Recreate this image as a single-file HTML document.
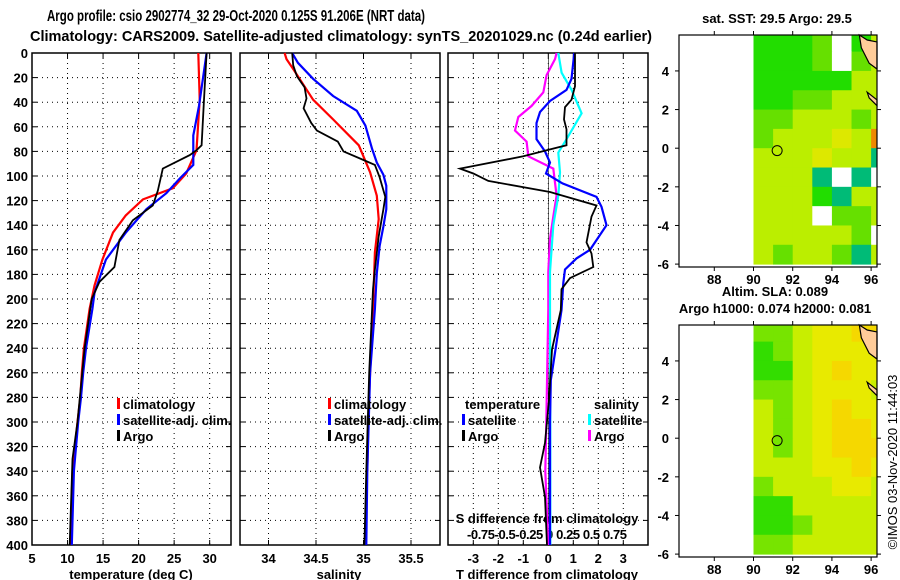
<!DOCTYPE html>
<html><head><meta charset="utf-8"><style>
html,body{margin:0;padding:0;background:#fff}
svg{display:block}
text{font-family:"Liberation Sans",Arial,sans-serif;font-weight:bold;fill:#000}
</style></head><body>
<svg id="c" width="900" height="580" xmlns="http://www.w3.org/2000/svg"></svg>
<script>
// ---------- data ----------
const depthTicks=[0,20,40,60,80,100,120,140,160,180,200,220,240,260,280,300,320,340,360,380,400];
const tTicks=[5,10,15,20,25,30];
const sTicks=[34,34.5,35,35.5];
const dTicks=[-3,-2,-1,0,1,2,3];
const sdTickLabels="-0.75-0.5-0.25  0   0.25 0.5 0.75";
// temperature profiles [depth, value]
const tClimD=[0,38,79,98,110,119,132,146,168,189,208,240,260,280,300,340,400];
const tClimV=[28.4,28.6,28.15,26.7,24.8,20.6,18.2,16.4,14.9,13.8,13.1,12.3,12.0,11.8,11.4,10.7,10.4];
const tSatD=[0,43,67,91,102,114,127,146,168,195,208,240,260,280,300,340,400];
const tSatV=[29.57,28.5,27.7,27.7,25.8,23.9,21.1,18.2,15.4,13.8,13.5,12.6,12.2,11.9,11.5,10.9,10.6];
const tArgoD=[0,38,75,79,83,94,112,124,136,152,174,186,200,240,300,330,400];
const tArgoV=[29.57,29.2,28.86,28.15,27.2,23.4,22.7,22.0,19.2,17.3,16.6,14.5,13.4,12.4,11.4,10.7,10.3];
// salinity profiles
const sClimD=[0,5,13,38,54,75,97,116,135,162,208,260,300,340];
const sClimV=[34.17,34.19,34.26,34.47,34.68,34.95,35.07,35.14,35.16,35.12,35.10,35.07,35.05,35.04];
const sSatD=[0,8,21,35,47,59,78,89,99,108,127,141,157,179,208,260,340,400];
const sSatV=[34.25,34.31,34.47,34.68,34.93,35.02,35.09,35.14,35.21,35.24,35.24,35.21,35.17,35.14,35.12,35.07,35.04,35.03];
const sArgoD=[0,10,19,28,37,45,57,63,72,80,87,91,101,117,127,149,176,192,260,340,400];
const sArgoV=[34.25,34.26,34.30,34.38,34.40,34.37,34.45,34.51,34.73,34.79,35.0,35.12,35.17,35.23,35.21,35.16,35.12,35.10,35.06,35.03,35.01];
// differences from climatology
const dTSatD=[0,21,30,39,48,57,70,80,89,98,106,117,125,140,160,167,176,187,209,266,300,400];
const dTSatV=[1.04,0.93,0.73,0.07,-0.33,-0.47,-0.47,-0.13,0.07,-0.09,0.57,1.93,2.13,2.33,1.67,1.13,0.67,0.6,0.53,0.1,0.07,0.07];
const dTArgoD=[0,27,38,44,54,62,75,77,84,94,98,104,113,124,133,154,163,174,183,192,209,241,282,317,337,361,400];
const dTArgoV=[1.07,1.07,0.93,0.67,0.63,0.73,0.73,0.33,-1.0,-3.53,-3.0,-2.4,0.07,1.93,1.73,1.53,1.73,1.8,0.87,0.53,0.5,0.15,0.03,-0.13,-0.33,-0.13,-0.05];
const dSSatD=[0,16,30,49,70,81,97,116,140,178,208,300,400];
const dSSatV=[0.1,0.133,0.233,0.333,0.183,0.1,0.117,0.1,0.05,0.017,0.017,0.02,0.02];
const dSArgoD=[0,5,18,32,43,52,63,72,84,94,116,133,151,178,208,300,340,400];
const dSArgoV=[0.083,0.067,-0.017,-0.05,-0.167,-0.30,-0.333,-0.217,-0.2,0.05,0.083,0.05,0.017,0,0,-0.02,-0.03,0];
// maps (1-degree cells, rows from lat 5 down to -6, cols lon 90..96)
const sstRows=["GGGgwGL","GGGgwgL","GGGGGyy","GGggyyy","ggyyygy","gyyyYyo","yyyYyyt","yyytwtw","yyyGtyy","yyywggy","yyyyygw","ygyygty"];
const slaRows=["ggyYYOL","GgyYYYY","GGyYOYY","ggyYYYy","ygyYOYY","ygyYOOY","ygyYOOO","yyyYYOY","gyyyYYy","GGyyyyy","GGgyyyy","ggyyyyy"];
const sstPal={G:"#22dd00",g:"#66e000",y:"#bbee00",Y:"#dde800",w:"#ffffff",t:"#00bb77",o:"#ee8800",L:"#bbee00"};
const slaPal={G:"#33dd00",g:"#77e400",y:"#c8ee00",Y:"#e8ea00",O:"#f5d800",L:"#f5d800"};
const argoLon=[91.206], argoLat=[-0.125];

// ---------- drawing ----------
const svg=document.getElementById('c');const NS="http://www.w3.org/2000/svg";
function el(t,a,p){const e=document.createElementNS(NS,t);for(const k in a)e.setAttribute(k,a[k]);(p||svg).appendChild(e);return e;}
function txt(s,x,y,size,anchor,p){const e=el('text',{x:x,y:y,'font-size':size,'text-anchor':anchor||'middle'},p);e.textContent=s;return e;}
const pTop=53,pBot=545;
const yD=d=>pTop+(pBot-pTop)*d/400;
function panel(name){
  const g=el('g',{});
  return g;
}
function frame(g,x0,x1,vticks,xf){
  depthTicks.forEach(d=>{const y=yD(d);
    if(d>0&&d<400) el('line',{x1:x0,x2:x1,y1:y,y2:y,stroke:'#000','stroke-width':1,'stroke-dasharray':'1,4'},g);
    el('line',{x1:x0,x2:x0+5,y1:y,y2:y,stroke:'#000'},g);el('line',{x1:x1-5,x2:x1,y1:y,y2:y,stroke:'#000'},g);});
  vticks.forEach(v=>{const x=xf(v);
    el('line',{x1:x,x2:x,y1:pTop,y2:pBot,stroke:'#000','stroke-dasharray':'1,4'},g);
    el('line',{x1:x,x2:x,y1:pTop,y2:pTop+5,stroke:'#000'},g);el('line',{x1:x,x2:x,y1:pBot-5,y2:pBot,stroke:'#000'},g);});
  el('rect',{x:x0,y:pTop,width:x1-x0,height:pBot-pTop,fill:'none',stroke:'#000','stroke-width':1.5},g);
}
function line(g,name,D,V,xf,color,w){
  const p=el('polyline',{points:D.map((d,i)=>xf(V[i]).toFixed(1)+','+yD(d).toFixed(1)).join(' '),fill:'none',stroke:color,'stroke-width':w||2.2},g);
  
}
function legendRow(g,x,y,color,label){
  el('rect',{x:x,y:y-6,width:3,height:11,fill:color},g);txt(label,x+6,y+5,13,'start',g);
}
// titles
const t1=txt("Argo profile: csio 2902774_32 29-Oct-2020 0.125S 91.206E (NRT data)",236,21,16);
t1.setAttribute('textLength','378');t1.setAttribute('lengthAdjust','spacingAndGlyphs');

const t2=txt("Climatology: CARS2009. Satellite-adjusted climatology: synTS_20201029.nc (0.24d earlier)",341,41,15);
t2.setAttribute('textLength','622');t2.setAttribute('lengthAdjust','spacingAndGlyphs');

// depth labels
const yl=el('g',{});
depthTicks.forEach(d=>txt(String(d),28,yD(d)+5,13,'end',yl));

// panel 1 temperature
const xT=v=>32+(v-5)*(231-32)/28;
const p1=panel('temperature-panel');frame(p1,32,231,tTicks.slice(1),xT);
tTicks.forEach(v=>txt(String(v),xT(v),563,13,'middle',p1));
txt("temperature (deg C)",131,579,13,'middle',p1);
line(p1,'temp-climatology-line',tClimD,tClimV,xT,'#f00');
line(p1,'temp-satellite-line',tSatD,tSatV,xT,'#00f');
line(p1,'temp-argo-line',tArgoD,tArgoV,xT,'#000',1.8);
legendRow(p1,117,404,'#f00','climatology');legendRow(p1,117,420,'#00f','satellite-adj. clim.');legendRow(p1,117,436,'#000','Argo');

// panel 2 salinity
const xS=v=>240+(v-33.7)*95;
const p2=panel('salinity-panel');frame(p2,240,440,sTicks,xS);
sTicks.forEach(v=>txt(String(v),xS(v),563,13,'middle',p2));
txt("salinity",339,579,13,'middle',p2);
line(p2,'sal-climatology-line',sClimD,sClimV,xS,'#f00');
line(p2,'sal-satellite-line',sSatD,sSatV,xS,'#00f');
line(p2,'sal-argo-line',sArgoD,sArgoV,xS,'#000',1.8);
legendRow(p2,328,404,'#f00','climatology');legendRow(p2,328,420,'#00f','satellite-adj. clim.');legendRow(p2,328,436,'#000','Argo');

// panel 3 differences
const xDT=v=>548.3+v*25, xDS=v=>548.3+v*100;
const p3=panel('difference-panel');frame(p3,448,648,dTicks,xDT);
el('line',{x1:548.3,x2:548.3,y1:pTop,y2:pBot,stroke:'#000','stroke-width':0.6},p3);
dTicks.forEach(v=>txt(String(v),xDT(v),563,13,'middle',p3));
txt("T difference from climatology",547,579,13,'middle',p3);
txt("S difference from climatology",547,523,13,'middle',p3);
const sl=txt(sdTickLabels,547,539,13,'middle',p3);sl.setAttribute('textLength','160');
line(p3,'sal-diff-argo-line',dSArgoD,dSArgoV,xDS,'#f0f');
line(p3,'sal-diff-satellite-line',dSSatD,dSSatV,xDS,'#0ff');
line(p3,'temp-diff-satellite-line',dTSatD,dTSatV,xDT,'#00f');
line(p3,'temp-diff-argo-line',dTArgoD,dTArgoV,xDT,'#000',1.8);
txt("temperature",465,409,13,'start',p3);
legendRow(p3,462,420,'#00f','satellite');legendRow(p3,462,436,'#000','Argo');
txt("salinity",594,409,13,'start',p3);
legendRow(p3,588,420,'#0ff','satellite');legendRow(p3,588,436,'#f0f','Argo');

// maps
function map(name,y0,y1,rows,pal){
  const g=el('g',{});
  const x0=679,x1=877,lon0=86.2,lon1=96.3;const lat0=5.86,lat1=-6.15;
  const X=l=>x0+(l-lon0)*(x1-x0)/(lon1-lon0), Y=l=>y0+(lat0-l)*(y1-y0)/(lat0-lat1);
  rows.forEach((r,i)=>{const la=5-i;[...r].forEach((c,j)=>{const lo=90+j;
    const xa=X(Math.max(lo,89.95)),xb=X(Math.min(lo+1,lon1)),ya=Y(Math.min(la+1,lat0)),yb=Y(Math.max(la,lat1));
    const cell=el('rect',{x:xa,y:ya,width:xb-xa+0.5,height:yb-ya+0.5,fill:pal[c]},g);
    
    });});
  el('path',{d:`M${X(95.4)},${y0} L${X(95.8)},${Y(5.6)} L${X(96.3)},${Y(5.5)} L${X(96.3)},${Y(4.1)} L${X(95.9)},${Y(4.4)} L${X(95.5)},${Y(5.2)} Z`,fill:'#ffcc99',stroke:'#000','stroke-width':1.2},g);
  el('path',{d:`M${X(95.8)},${Y(2.9)} L${X(96.3)},${Y(2.5)} L${X(96.3)},${Y(2.2)} L${X(95.9)},${Y(2.6)} Z`,fill:'#ffcc99',stroke:'#000','stroke-width':1.2},g);
  el('circle',{cx:X(argoLon[0]),cy:Y(argoLat[0]),r:5,fill:'none',stroke:'#000','stroke-width':1},g);
  el('rect',{x:x0,y:y0,width:x1-x0,height:y1-y0,fill:'none',stroke:'#000','stroke-width':1.2},g);
  [88,90,92,94,96].forEach(l=>{const x=X(l);el('line',{x1:x,x2:x,y1:y0-4,y2:y0,stroke:'#000'},g);el('line',{x1:x,x2:x,y1:y1,y2:y1+4,stroke:'#000'},g);txt(String(l),x,y1+17,13,'middle',g);});
  [4,2,0,-2,-4,-6].forEach(l=>{const y=Y(l);el('line',{x1:x0-4,x2:x0,y1:y,y2:y,stroke:'#000'},g);el('line',{x1:x1,x2:x1+4,y1:y,y2:y,stroke:'#000'},g);txt(String(l),x0-10,y+5,13,'end',g);});
}
map('sst-map',35,267,sstRows,sstPal);
map('sla-map',325,557,slaRows,slaPal);
const m1=txt("sat. SST: 29.5 Argo: 29.5",777,23,13);
const m2=txt("Altim. SLA: 0.089",775,296,13);
const m3=txt("Argo h1000: 0.074 h2000: 0.081",775,313,13);
const cr=txt("©IMOS 03-Nov-2020 11:44:03",0,0,13,'middle');cr.setAttribute('transform','translate(897,462) rotate(-90)');cr.setAttribute('style','font-weight:normal');

</script>
</body></html>
